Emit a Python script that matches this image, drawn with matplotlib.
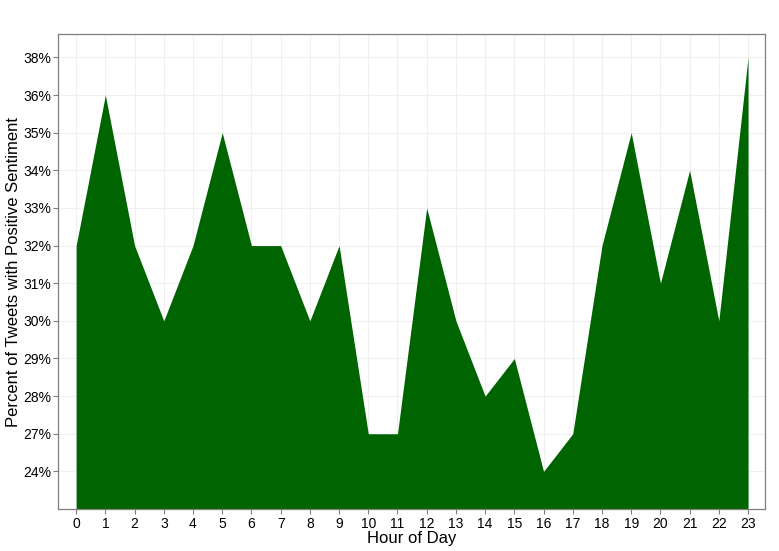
import matplotlib
matplotlib.use("Agg")
import matplotlib.pyplot as plt

hours = list(range(24))
pct = [32, 36, 32, 30, 32, 35, 32, 32, 30, 32, 27, 27,
       33, 30, 28, 29, 24, 27, 32, 35, 31, 34, 30, 38]
levels = [24, 27, 28, 29, 30, 31, 32, 33, 34, 35, 36, 38]

plt.rcParams['font.family'] = ['Liberation Sans', 'DejaVu Sans']

# y is a discrete scale: position = index of the level (1-based)
ypos = [levels.index(v) + 1 for v in pct]

fig = plt.figure(figsize=(7.79, 5.51), dpi=100)
ax = fig.add_axes([0.0745, 0.0762, 0.9075, 0.8620])
ax.fill_between(hours, 0, ypos, color='#006400', linewidth=0, zorder=2)

ax.set_xlim(-0.62, 23.58)
ax.set_ylim(0, 12.62)
ax.set_xticks(hours)
ax.set_xticklabels([str(h) for h in hours])
ax.set_yticks(range(1, len(levels) + 1))
ax.set_yticklabels([f"{v}%" for v in levels])
ax.grid(True, color='#efefef', linewidth=0.8, zorder=0)
ax.set_axisbelow(True)
for s in ax.spines.values():
    s.set_color('#7f7f7f')
    s.set_linewidth(0.9)
ax.tick_params(axis='both', length=3.5, width=0.8, color='#7f7f7f',
               labelsize=10, labelcolor='black', pad=2)
ax.tick_params(axis='y', pad=1.5)

ax.set_xlabel("Hour of Day", fontsize=12, labelpad=0)
ax.set_ylabel("Percent of Tweets with Positive Sentiment", fontsize=12)
ax.yaxis.set_label_coords(-0.053, 0.5)

fig.savefig("out.png", dpi=100)
